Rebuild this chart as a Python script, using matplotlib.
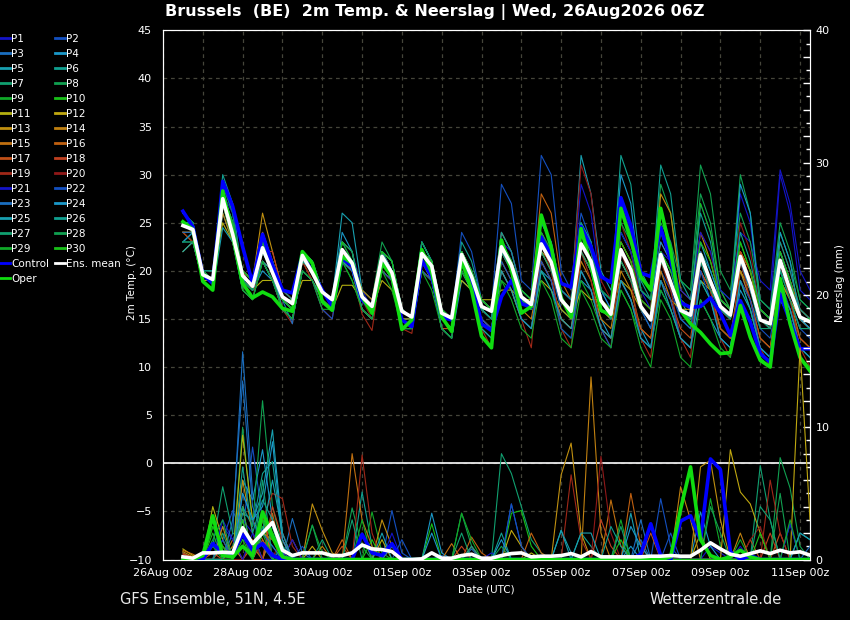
"""
GFS ENSEMBLE PLUME - BRUSSELS
2m temperature and precipitation, run Wed 26Aug2026 06Z
"""

import matplotlib
matplotlib.use("Agg")
import matplotlib.pyplot as plt
import matplotlib.dates as mdates
from matplotlib.lines import Line2D
from matplotlib.ticker import FuncFormatter, MultipleLocator
import pandas as pd

# =========================================================
# DATA (6-hourly, +6h .. +384h)
# =========================================================
RUN_FIRST_STEP = "2026-08-26 12:00"
N_STEPS = 64
TITLE = "Brussels  (BE)  2m Temp. & Neerslag | Wed, 26Aug2026 06Z"

MEMBER_COLORS = ["#1414c8", "#1450c0", "#1a6ec0", "#1a98c8", "#18a0b0",
                 "#10a090", "#10a070", "#10a050", "#10a828", "#18c018",
                 "#b4b010", "#c0a810", "#c09010", "#c08010", "#c07010",
                 "#c06010", "#c05018", "#c04020", "#a02818", "#901818"]
MEMBER_COLORS = MEMBER_COLORS + MEMBER_COLORS[:10]

MEAN_TEMP = [24.7, 24.3,
             19.6, 19.1, 27.5, 23.8, 19.5, 18.4, 22.4, 19.8, 17.3, 16.6, 21.6, 19.8,
             17.8, 17.0, 22.2, 20.8, 17.3, 16.3, 21.5, 19.8, 15.8, 15.2, 21.8, 20.5,
             15.6, 15.1, 21.7, 19.4, 16.3, 15.8, 22.5, 20.6, 17.3, 16.5, 22.8, 20.9,
             17.0, 15.8, 22.8, 21.0, 16.9, 15.5, 22.2, 20.1, 16.3, 14.9, 21.7, 18.8,
             15.9, 15.4, 21.7, 18.9, 16.3, 15.4, 21.5, 18.7, 14.9, 14.5, 21.1, 18.0,
             15.2, 14.7]

CTRL_TEMP = [26.2, 24.6,
             19.6, 18.7, 29.3, 26.7, 22.5, 18.7, 23.8, 20.6, 18.0, 17.7, 21.7, 19.9,
             18.0, 16.3, 21.3, 20.5, 17.0, 15.9, 21.1, 19.4, 14.9, 14.2, 21.1, 19.4,
             15.2, 14.9, 21.1, 19.1, 14.5, 13.8, 17.3, 19.0, 16.6, 16.2, 23.5, 21.6,
             18.7, 18.3, 24.6, 22.5, 19.4, 18.8, 27.6, 24.7, 19.8, 19.4, 24.5, 21.1,
             16.7, 16.2, 16.3, 17.2, 15.6, 13.3, 16.9, 14.7, 11.4, 10.5, 17.6, 14.7,
             11.9, 11.9]

OPER_TEMP = [25.1, 24.3,
             18.9, 18.0, 28.3, 23.8, 18.7, 17.2, 17.8, 17.3, 16.1, 15.8, 22.0, 20.8,
             16.8, 15.9, 21.5, 20.8, 17.3, 15.6, 20.8, 19.4, 13.9, 14.9, 22.2, 19.8,
             15.2, 13.7, 21.1, 18.0, 13.2, 12.0, 23.2, 20.1, 15.6, 16.3, 25.8, 22.5,
             17.2, 15.2, 24.4, 20.5, 15.9, 15.4, 26.5, 23.2, 19.4, 18.0, 26.5, 22.1,
             15.9, 14.5, 13.6, 12.4, 11.4, 11.5, 16.4, 13.1, 10.7, 10.0, 19.2, 14.5,
             11.0, 9.6]

MEMBER_TEMP = [
    [26, 25, 19, 19, 29, 27, 19, 18, 23, 20, 18, 17, 21, 20, 18, 17, 23, 22, 18, 16, 22, 21, 16, 15, 23, 21, 16, 15, 22, 20, 17, 16, 24, 22, 18, 17, 25, 23, 18, 17, 29, 26, 18, 16, 27, 24, 18, 16, 26, 23, 17, 16, 27, 24, 18, 16, 28, 25, 17, 16, 30, 26, 18, 17],
    [23, 23, 19, 19, 29, 26, 19, 19, 21, 19, 18, 17, 22, 21, 18, 17, 23, 21, 17, 16, 22, 20, 16, 15, 23, 21, 16, 15, 24, 22, 17, 16, 29, 27, 19, 18, 32, 30, 20, 18, 26, 23, 17, 15, 21, 19, 16, 14, 20, 18, 15, 14, 20, 18, 16, 15, 20, 17, 14, 13, 19, 17, 14, 13],
    [25, 24, 20, 19, 28, 25, 20, 19, 24, 21, 18, 17, 22, 20, 17, 16, 21, 20, 17, 16, 21, 19, 15, 15, 21, 20, 15, 14, 21, 19, 16, 16, 22, 20, 17, 16, 22, 20, 16, 15, 22, 20, 16, 15, 21, 19, 16, 14, 22, 19, 15, 14, 21, 18, 16, 15, 22, 19, 15, 14, 20, 17, 14, 14],
    [23, 24, 19, 18, 26, 23, 19, 18, 20, 19, 16, 15, 20, 19, 17, 16, 21, 20, 16, 15, 20, 19, 14, 14, 20, 19, 14, 13, 19, 18, 15, 14, 20, 18, 15, 14, 20, 19, 15, 14, 19, 18, 15, 13, 19, 17, 14, 12, 18, 16, 13, 12, 17, 15, 13, 12, 18, 16, 12, 11, 17, 15, 12, 11],
    [25, 25, 20, 19, 27, 24, 20, 18, 22, 20, 17, 16, 22, 20, 18, 17, 26, 25, 18, 17, 21, 20, 16, 15, 22, 21, 15, 15, 22, 20, 17, 16, 23, 21, 17, 16, 24, 22, 18, 17, 32, 28, 20, 18, 24, 22, 17, 16, 22, 20, 16, 15, 21, 19, 17, 16, 22, 19, 15, 14, 22, 19, 15, 15],
    [26, 25, 19, 19, 30, 27, 19, 18, 22, 20, 17, 17, 22, 21, 18, 17, 22, 21, 17, 16, 22, 20, 16, 15, 22, 21, 16, 15, 21, 20, 16, 15, 22, 21, 18, 17, 24, 22, 18, 17, 25, 23, 18, 17, 32, 29, 20, 18, 24, 21, 17, 15, 22, 20, 17, 16, 21, 18, 15, 14, 20, 18, 15, 14],
    [24, 24, 20, 20, 28, 24, 19, 18, 22, 20, 17, 16, 22, 20, 18, 17, 22, 21, 17, 16, 22, 20, 16, 15, 22, 21, 16, 15, 22, 19, 16, 16, 22, 20, 17, 17, 23, 21, 17, 16, 22, 20, 16, 15, 22, 20, 16, 15, 21, 19, 16, 15, 22, 19, 16, 15, 21, 18, 14, 14, 21, 18, 15, 14],
    [25, 24, 20, 19, 27, 24, 19, 18, 22, 20, 17, 16, 21, 20, 18, 17, 22, 21, 18, 17, 23, 21, 16, 15, 22, 21, 15, 15, 22, 20, 16, 15, 22, 20, 18, 17, 23, 21, 17, 16, 23, 21, 17, 16, 24, 22, 18, 17, 29, 26, 19, 18, 28, 25, 18, 17, 30, 26, 17, 16, 24, 21, 17, 16],
    [24, 23, 19, 18, 27, 23, 18, 17, 21, 19, 16, 15, 20, 19, 17, 16, 21, 19, 16, 15, 20, 19, 14, 14, 20, 19, 14, 13, 20, 18, 14, 13, 19, 18, 15, 14, 20, 18, 14, 13, 19, 17, 14, 13, 18, 16, 13, 12, 18, 16, 13, 12, 19, 17, 14, 13, 19, 16, 12, 11, 18, 16, 12, 11],
    [25, 24, 20, 19, 28, 25, 20, 19, 23, 20, 17, 17, 22, 20, 18, 17, 22, 20, 17, 16, 21, 20, 16, 15, 22, 20, 15, 15, 21, 19, 16, 16, 23, 21, 18, 17, 23, 21, 17, 16, 23, 21, 17, 16, 22, 20, 16, 15, 22, 20, 17, 16, 27, 24, 18, 16, 23, 20, 16, 15, 22, 19, 16, 15],
    [22, 23, 19, 19, 25, 23, 19, 18, 19, 19, 17, 16, 19, 19, 17, 16, 18.5, 18.5, 17, 16, 19, 18, 15, 15, 20, 19, 15, 15, 19, 18, 17, 17, 18, 18, 17, 17, 19, 18, 16, 15, 18, 17, 17, 16, 19, 18, 16, 15, 19, 17, 16, 15, 19, 18, 17, 16, 20, 18, 15, 14, 19, 17, 15, 14],
    [25, 24, 20, 19, 28, 24, 19, 18, 23, 21, 17, 16, 21, 20, 18, 17, 22, 21, 17, 16, 21, 20, 16, 15, 22, 20, 16, 15, 22, 20, 16, 15, 23, 21, 17, 16, 22, 20, 17, 16, 23, 21, 16, 15, 21, 19, 16, 15, 21, 19, 16, 16, 21, 19, 16, 15, 21, 19, 15, 14, 21, 18, 15, 14],
    [24, 24, 20, 19, 27, 24, 20, 19, 26, 22, 18, 17, 22, 20, 18, 17, 23, 22, 17, 16, 21, 20, 16, 15, 22, 21, 16, 15, 22, 20, 17, 16, 22, 20, 17, 16, 22, 21, 17, 16, 23, 21, 17, 16, 23, 21, 17, 16, 28, 26, 18, 17, 24, 21, 17, 16, 22, 20, 15, 14, 21, 19, 15, 14],
    [24, 23, 20, 19, 26, 23, 19, 18, 21, 19, 16, 15, 20, 19, 17, 16, 21, 20, 16, 15, 20, 19, 15, 14, 21, 19, 15, 14, 20, 18, 15, 14, 21, 19, 16, 15, 21, 19, 15, 14, 21, 19, 15, 14, 20, 18, 14, 13, 20, 17, 13, 12, 20, 18, 14, 13, 20, 17, 13, 12, 19, 17, 13, 12],
    [24, 24, 20, 19, 27, 24, 20, 19, 24, 21, 18, 17, 21, 20, 18, 17, 22, 21, 18, 17, 22, 20, 16, 15, 21, 20, 16, 15, 21, 19, 17, 16, 22, 20, 17, 16, 23, 21, 17, 16, 22, 20, 17, 16, 22, 20, 16, 15, 21, 19, 16, 15, 22, 19, 16, 15, 22, 19, 15, 14, 21, 18, 15, 14],
    [25, 24, 20, 19, 27, 24, 19, 18, 22, 20, 18, 17, 22, 21, 18, 17, 22, 21, 17, 16, 22, 20, 16, 15, 22, 21, 16, 15, 22, 20, 17, 16, 24, 22, 18, 17, 28, 26, 19, 17, 24, 22, 17, 16, 23, 21, 16, 15, 21, 19, 16, 15, 22, 19, 16, 15, 22, 20, 16, 15, 22, 19, 16, 15],
    [24, 24, 20, 19, 27, 23, 19, 18, 21, 20, 17, 16, 21, 19, 17, 16, 21, 20, 16, 15, 20, 19, 15, 14, 20, 19, 14, 14, 20, 18, 15, 14, 20, 18, 15, 14, 21, 19, 15, 14, 20, 18, 14, 13, 19, 17, 14, 13, 19, 17, 14, 13, 20, 18, 14, 13, 19, 17, 13, 12, 18, 16, 13, 12],
    [25, 24, 20, 19, 27, 24, 20, 18, 22, 22, 18, 17, 22, 20, 18, 17, 22, 21, 17, 16, 21, 20, 16, 15, 21, 20, 16, 15, 21, 19, 16, 15, 22, 20, 17, 16, 23, 21, 17, 16, 22, 20, 17, 16, 22, 20, 16, 15, 22, 19, 16, 15, 21, 19, 16, 15, 22, 19, 15, 14, 21, 18, 15, 14],
    [24, 23, 19, 18, 27, 24, 18, 17, 22, 21, 16, 14.5, 21, 19, 16, 15, 22, 20, 15.5, 13.8, 21, 19, 14, 13.5, 21, 19, 14, 13, 21, 18, 14, 12, 22, 20, 15, 12, 23, 20, 14, 12, 22, 19, 14, 12, 22, 19, 13, 11, 21, 18, 13, 11, 22, 18, 13, 11, 21, 17, 12, 10, 21, 17, 12, 10],
    [25, 24, 20, 19, 28, 25, 20, 19, 23, 21, 18, 17, 22, 20, 17, 16, 21, 20, 17, 15, 21, 20, 16, 15, 22, 20, 16, 15, 22, 20, 16, 15, 22, 21, 17, 16, 24, 22, 18, 17, 31, 28, 19, 17, 25, 22, 17, 16, 23, 21, 17, 16, 24, 22, 17, 16, 25, 22, 16, 15, 23, 20, 16, 15],
    [26, 25, 20, 19, 28, 26, 19, 18, 22, 20, 17, 16, 22, 21, 18, 17, 22, 21, 17, 16, 22, 20, 16, 15, 22, 20, 16, 15, 22, 20, 17, 16, 23, 22, 18, 17, 24, 22, 18, 17, 24, 22, 18, 17, 24, 22, 18, 17, 22, 21, 18, 17, 24, 22, 18, 17, 24, 23, 19, 18, 30.5, 27, 20, 18],
    [23, 23, 19, 18, 27, 25, 19, 18, 21, 19, 16, 15, 20, 19, 16, 15, 21, 20, 16, 15, 20, 19, 14, 14, 20, 19, 14, 13, 20, 18, 15, 14, 21, 19, 15, 14, 21, 19, 14, 13, 20, 18, 14, 12, 19, 17, 13, 12, 19, 17, 13, 12, 20, 17, 13, 12, 19, 17, 12, 11, 19, 16, 12, 11],
    [24, 24, 20, 19, 28, 25, 19, 18, 23, 21, 17, 14.5, 22, 20, 18, 17, 22, 21, 17, 16, 22, 20, 16, 15, 22, 20, 15, 15, 21, 19, 16, 15, 22, 20, 17, 16, 23, 21, 17, 16, 23, 21, 17, 15, 22, 20, 16, 15, 22, 19, 16, 15, 22, 19, 16, 15, 21, 18, 15, 14, 22, 19, 15, 14],
    [23, 24, 20, 19, 28, 25, 19, 18, 21, 19, 17, 16, 21, 20, 18, 17, 24, 22, 17, 16, 22, 21, 16, 15, 23, 21, 15, 14, 22, 20, 16, 15, 23, 21, 17, 16, 23, 21, 17, 16, 24, 22, 18, 16, 30, 27, 18, 17, 23, 21, 17, 16, 23, 20, 17, 16, 29, 26, 16, 15, 24, 21, 15, 14],
    [22, 23, 19, 18, 24.5, 23, 18, 17, 21, 20, 16, 15, 20, 19, 17, 16, 21, 20, 16, 15, 21, 19, 15, 14, 21, 19, 14, 13, 20, 18, 14, 13, 20, 18, 15, 14, 20, 18, 15, 14, 20, 18, 14, 13, 19, 17, 13, 12, 19, 16, 13, 12, 19, 17, 13, 12, 19, 16, 12, 11, 18, 16, 12, 11],
    [26, 25, 20, 20, 28, 25, 20, 19, 23, 21, 18, 17, 22, 21, 18, 17, 23, 22, 17, 16, 22, 21, 16, 15, 23, 21, 16, 15, 23, 21, 17, 16, 24, 22, 18, 17, 25, 23, 18, 17, 25, 23, 18, 17, 26, 24, 19, 17, 31, 28, 19, 17, 26, 23, 17, 16, 24, 21, 16, 15, 23, 20, 16, 15],
    [25, 24, 20, 19, 28, 24, 19, 18, 22, 20, 17, 16, 21, 20, 18, 17, 22, 21, 17, 16, 22, 20, 16, 15, 22, 21, 16, 15, 21, 19, 16, 15, 22, 20, 17, 16, 22, 20, 17, 16, 22, 20, 17, 15, 21, 19, 16, 15, 21, 19, 16, 15, 21, 18, 16, 15, 21, 19, 15, 14, 20, 17, 14, 14],
    [26, 25, 20, 19, 29, 26, 19, 18, 22, 20, 17, 16, 22, 21, 18, 17, 23, 22, 17, 16, 22, 21, 16, 15, 23, 21, 16, 15, 22, 20, 17, 16, 23, 21, 17, 16, 23, 21, 17, 16, 24, 22, 18, 17, 25, 23, 18, 17, 25, 23, 19, 18, 31, 28, 20, 18, 26, 23, 17, 16, 25, 22, 17, 16],
    [23, 23, 19, 18, 27, 23, 18, 17, 21, 19, 16, 15, 20, 19, 16, 16, 21, 19, 16, 15, 20, 18, 14, 14, 20, 18, 14, 13, 20, 18, 13, 12, 19, 17, 14, 13, 19, 17, 13, 12, 18, 16, 13, 12, 18, 16, 12, 10, 17, 15, 11, 10, 17, 15, 12, 11, 17, 15, 11, 10, 17, 15, 11, 10],
    [26, 25, 20, 19, 28, 25, 20, 19, 23, 21, 17, 16, 22, 20, 18, 17, 23, 21, 17, 16, 22, 21, 16, 15, 22, 21, 16, 15, 22, 20, 17, 16, 23, 21, 18, 17, 24, 22, 17, 16, 23, 21, 17, 16, 23, 21, 17, 16, 22, 20, 17, 16, 23, 21, 17, 16, 23, 20, 16, 15, 22, 19, 15, 15],
]

MEAN_RAIN = [0.2, 0.1,
             0.5, 0.5, 0.55, 0.5, 2.4, 1.2, 2.0, 2.8, 0.7, 0.3, 0.5, 0.5,
             0.5, 0.3, 0.3, 0.5, 1.1, 0.8, 0.75, 0.6, 0.0, 0.0, 0.05, 0.5,
             0.1, 0.1, 0.3, 0.4, 0.1, 0.1, 0.3, 0.45, 0.5, 0.2, 0.25, 0.25,
             0.3, 0.45, 0.2, 0.6, 0.2, 0.2, 0.2, 0.2, 0.2, 0.25, 0.25, 0.3,
             0.25, 0.25, 0.7, 1.26, 0.8, 0.4, 0.25, 0.45, 0.65, 0.45, 0.7, 0.5,
             0.58, 0.33]

CTRL_RAIN = [0, 0,
             0, 1.2, 0.5, 0.5, 1.9, 0.7, 1.2, 0.3, 0, 0, 0, 0,
             0, 0, 0, 0, 1.9, 0.5, 0.3, 1.2, 0, 0, 0, 0,
             0, 0, 0, 0, 0, 0, 0, 0, 0, 0, 0, 0,
             0, 0, 0, 0, 0, 0, 0, 0, 0.4, 2.7, 0.3, 0,
             2.9, 3.3, 1.5, 7.6, 6.8, 0.6, 0, 0.3, 0, 0, 0, 0,
             0, 0]

OPER_RAIN = [0, 0,
             0.3, 3.3, 0.3, 0.2, 1.0, 0.3, 3.6, 1.8, 0.2, 0, 0, 0,
             0, 0, 0, 0, 0, 0, 0, 0, 0, 0, 0, 0,
             0, 0, 0, 0, 0, 0, 0, 0, 0, 0, 0, 0,
             0, 0, 0, 0, 0, 0, 0, 0, 0, 0, 0, 0.2,
             3.8, 7.0, 1.5, 0.3, 0, 0.2, 0.7, 0.2, 0, 0, 0, 0,
             0, 0]

MEMBER_RAIN = [
    [0, 0, 0, 1, 2.5, 1.5, 3, 2, 1, .5, .2, 0, 0, 0, 0, 0, 0, 0, 0, 0, 0, 0, 0, 0, 0, .5, 0, 0, 0, 0, 0, 0, 0, 0, 0, 0, 0, 0, 0, 0, 0, 0, 0, 0, 0, 0, 0, 0, 0, 0, 0, 0, 0, 1, .5, 0, 0, 0, 0, 0, 0, 0, 0, 0],
    [0, 0, 0, 0, 1.5, 3.7, 2, 8.5, 3, 1.5, .5, 0, 0, 0, 0, 0, 0, 0, 0, 0, 0, 3.7, .5, 0, 0, 0, 0, 0, 0, 0, 0, 0, 0, 4.2, 1, 0, 0, 0, 0, 0, 0, 0, 0, 0, 0, 0, 0, 0, 4.6, 1, 0, 0, 0, 0, 0, 0, 0, 0, 0, 0, 0, 2.7, 0, 0],
    [0, 0, 0, 0, 0, 2, 15.7, 5, 2, 1, 0, 3.1, .5, 0, 0, 0, 0, 0, 0, 0, 0, 0, 0, 0, 0, 0, 0, 0, 0, .8, 0, 0, 0, 0, 0, 0, 0, 0, 0, 0, 0, 0, 0, 0, 0, 0, 1.5, 0, 0, 0, 0, 0, 0, 0, 0, 0, 0, 0, 0, 0, 0, 0, 0, 0],
    [0, 0, 0, 0, 0, 0, 6, 4.5, 8.3, 3, 1, 0, 0, 0, 0, 0, 0, 0, 0, 0, 0, 0, 0, 0, 0, 3.5, .5, 0, 0, 0, 0, 0, 0, 0, 0, 0, 0, 0, 0, 0, 0, 0, 0, 0, 0, 1, 0, 0, 0, 0, 0, 0, 3.6, 1, 0, 0, 0, 0, 0, 0, 0, 0, 0, 0],
    [.5, 0, 0, 0, 0, 0, 3.5, 3, 5, 9.8, 2, 0, 0, 0, 0, 0, 0, 0, 0, 0, 0, 0, 0, 0, 0, 0, 0, 0, 0, 0, 0, 0, 0, 0, 0, 0, 0, 0, 2.2, .5, 0, 0, 0, 0, 0, 3.5, 0, 0, 0, 0, 0, 0, 0, 0, 0, 0, 0, 0, 0, 0, 0, 0, 2, 1.5],
    [0, 0, 0, 0, 0, 1, 4, 2.5, 6.5, 7.4, 1.5, 0, 0, 0, 0, 0, 0, 0, 5.1, 1, 0, 0, 0, 0, 0, 0, 0, 0, 0, 0, 0, 0, 2, 0, 0, 0, 0, 0, 0, 0, 2, 1, 0, 0, 0, 0, 0, 0, 0, 0, 0, 0, 0, 0, 0, 0, 0, 0, 0, 0, 0, 0, 0, 0],
    [0, 0, 0, 1, 5.5, 2, 1.5, 1, 0, 2.5, 0, 0, 0, 0, 0, 0, 0, 0, 0, 0, 0, 0, 0, 0, 0, 0, 0, 0, 0, 0, 0, 0, 8, 6.5, 4, 1.5, .5, 0, 0, 0, 0, 0, 0, 0, 0, 0, 0, 0, 0, 0, 0, 0, 0, 0, 0, 0, 0, 0, 7.1, 3, 0, 0, 0, 0],
    [0, 0, 0, 0, 0, 0, 10, 2.5, 12, 4, 1, 0, 0, 0, 0, 0, 0, 3.9, 1, 0, 0, 0, 0, 0, 0, 0, 0, 0, 3.5, 1, 0, 0, 0, 0, 0, 0, 0, 0, 0, 0, 0, 0, 0, 0, 0, 0, 0, 0, 0, 0, 0, 0, 0, 0, 0, 0, 0, 0, 0, 0, 7.7, 5.4, 1, 0],
    [0, 0, 0, 2.5, 1, 0, 2, 0, 3, 0, 0, 0, 0, 2.6, .5, 0, 0, 0, 0, 3.6, .5, 0, 0, 0, 0, 0, 0, 0, 0, 0, 0, 0, 0, 0, 0, 0, 0, 0, 0, 0, 0, 0, 0, 0, 3, 0, 0, 0, 0, 0, 0, 0, 0, 4.6, 1, 0, 0, 0, 0, 0, 0, 0, 0, 0],
    [0, 0, 0, 2, 0, 0, 1.5, 0, 2.5, 0, 0, 0, 0, 0, 0, 0, 0, 0, 0, 0, 0, 0, 0, 0, 0, 2.7, 0, 0, 0, 0, 0, 0, 0, 3.5, 3.7, 1, 0, 0, 0, 0, 0, 0, 0, 0, 0, 0, 0, 0, 0, 0, 0, 0, 0, 0, 0, 0, 0, 0, 0, 0, 0, 0, 0, 0],
    [.8, .3, 0, 4, 1.5, 0, 9.4, 3, 1.5, 0, 0, 0, 0, 0, 0, 0, 0, 0, 0, 0, 1.5, 0, 0, 0, 0, 0, 0, 0, 0, 0, 0, 0, 0, 0, 0, .5, 0, 0, 0, 0, 0, 0, 0, 0, 0, 0, 0, 0, 0, 0, 0, 0, 2, 0, 0, 0, 0, 0, 0, 0, 0, 0, 0, 0],
    [0, 0, 0, 0, 0, 0, 4, 0, 2, 1.5, 0, 0, 0, 1, 0, 0, 0, 0, 0, 0, 0, 1, 0, 0, 0, 0, 0, 0, 0, 0, 0, 0, 0, 2.2, 1, 0, 0, 0, 0, 0, 0, 0, 0, 0, 0, 0, 0, 0, 0, 0, 0, 0, 0, 0, 0, 8.3, 5.1, 4.2, 2, 0, 0, 0, 16, 3],
    [.6, .2, 0, 0, 2.5, 0, 6, 2, 0, 0, 0, 0, 0, 4.2, 2.2, .5, 0, 0, 0, 0, 3, 1, 0, 0, 0, 0, 0, 0, 0, 0, 0, 0, 0, 0, 0, 0, 0, 0, 6.4, 8.8, 2, 0, 0, 0, 0, 0, 0, 0, 0, 0, 0, 0, 7, 7.5, 3, 0, 0, 0, 0, 0, 0, 0, 0, 0],
    [0, 0, 0, 0, 0, 1, 0, 1.5, 0, 2, 0, 0, 0, 0, 1, 0, 0, 0, 0, 0, 0, 0, 0, 0, 0, 0, 0, 0, 0, 0, 0, 0, 0, 0, 0, 0, 0, 0, 0, 0, 0, 13.8, 2, 0, 0, 0, 0, 0, 0, 0, 5.5, 3, 0, 0, 0, 0, 2, 0, 0, 0, 0, 0, 0, 0],
    [.7, .4, 0, 0, 1, 0, 2, 0, 3.5, 0, 0, 0, 0, 0, 0, 0, 0, 8, 3, 1, 0, 0, 0, 0, 0, 0, 0, 1.2, 0, 0, 0, 0, 0, 0, 0, 0, 0, 0, 0, 0, 0, 0, 0, 4.5, 1, 0, 0, 0, 0, 0, 0, 0, 0, 0, 0, 0, 0, 0, 0, 0, 0, 0, 0, 0],
    [0, 0, 0, 0, 0, 1.5, 0, 1, 0, 3.5, 0, 1.5, 0, 0, 0, 0, 1.5, 0, 0, 0, 0, 0, 0, 0, 0, 0, 0, 0, 0, 1.7, .5, 0, 0, 0, 0, 2, .5, 0, 0, 0, 0, 0, 0, 0, 0, 5, 1, 0, 0, 0, 0, 0, 0, 0, 0, 0, 0, 0, 0, 0, 0, 0, 0, 0],
    [.5, 0, 0, .5, 0, 0, 2.5, 0, 1.5, 0, 0, 0, 0, 0, 0, 0, 1, 0, 0, 0, 0, 0, 0, 0, 0, 0, 0, 0, 0, 1, 0, 0, 0, 0, 0, 0, 0, 0, 0, 0, 0, 0, 0, 0, 0, 0, 0, 2, 0, 0, 0, 0, 0, 0, 0, 0, 0, 1.5, 0, 0, 2, 0, 0, 0],
    [.4, .2, 0, 0, 0, 0, 3, 0, 0, 4, 1.5, 0, 0, 0, 0, 0, 0, 0, 2, 0, 0, 0, 0, 0, 0, 0, 0, 0, 1, 0, 0, 0, 0, 0, 0, 0, 0, 0, 0, 0, 0, 0, 3, 1, 0, 0, 0, 0, 0, 0, 0, 0, 0, 0, 0, 0, 0, 0, 0, 2, 0, 0, 0, 0],
    [0, 0, 0, 0, 0, 0, 2, 0, 3, 5, 4.6, 1, 0, 0, 0, 0, 0, 0, 7.9, 2, 0, 0, 0, 0, 0, 0, 0, 0, 0, 0, 0, 0, 0, 0, 0, 0, 0, 0, 0, 6.4, 1.5, 0, 0, 0, 0, 0, 0, 0, 0, 0, 0, 0, 0, 0, 0, 0, 0, 0, 0, 6, 2, 0, 0, 0],
    [0, 0, 0, 0, 0, 0, 0, 1.5, 0, 0, 2, 0, 0, 0, 0, 0, 0, 0, 0, 0, 0, 0, 0, 0, 0, 0, 0, 0, 0, 0, 0, 0, 0, 0, 0, 0, 0, 0, 0, 0, 0, 0, 7.8, 2, 0, 0, 0, 0, 0, 0, 0, 0, 0, 0, 0, 0, 0, 1.5, 2.5, 0, 0, 0, 0, 0],
    [0, 0, 0, 0, 3, 1.5, 0, 2, 0, 0, 0, 1.5, 0, 0, 0, 0, 0, 0, 0, 0, 0, 2, 0, 0, 0, 0, 0, 0, 0, 0, 0, .5, 0, 0, 0, 0, 0, 0, 0, 0, 0, 0, 0, 0, 0, 0, 0, 0, 0, 0, 0, 0, 0, 0, 0, 0, 1, 0, 0, 0, 0, 2.7, 0, 0],
    [0, 0, 0, 0, 1.5, 0, 5, 3, 1, 0, 0, 0, 1, 0, 0, 0, 0, 0, 0, 0, 0, 0, 1.5, 0, 0, 0, 0, 0, 0, 0, 0, 0, 0, 4.2, 1, 0, 0, 0, 0, 0, 0, 0, 0, 0, 0, 0, 0, 0, 0, 2, 0, 0, 0, 0, 0, 0, 0, 0, 0, 0, 0, 0, 0, 0],
    [0, 0, 0, 0, 0, 3, 13.5, 4, 2, 1, 0, 0, 0, 0, 0, 0, 0, 0, 0, 0, 0, 1, 0, 0, 0, 0, .3, 0, 0, 0, 0, 0, 0, 0, 0, 0, 0, 0, 0, 0, 0, 0, 0, 0, 0, 0, 3, 0, 0, 0, 0, 0, 0, 0, 0, 0, 0, 0, 0, 0, 0, 0, 0, 1],
    [0, 0, 0, 0, 0, 0, 5, 3, 4, 8.9, 1.5, 0, 0, 0, 0, 0, 0, 0, 0, 0, 0, 0, 0, 0, 0, 2, 0, 0, 0, 0, 0, 0, 1.5, 0, 0, 0, 0, 0, 0, 0, 0, 0, 0, 0, 0, 2.5, 1, 0, 0, 0, 0, 0, 0, 0, 0, 0, 0, 0, 0, 0, 0, 0, 0, 0],
    [0, 0, 0, 0, 0, 0, 3, 0, 2, 6, 2, 0, 0, 0, 0, 0, 0, 0, 0, 0, 2, 0, 0, 0, 0, 0, 0, 0, 0, 0, 0, 0, 0, 0, 0, 0, 0, 0, 2.2, 0, 2, 2, 0, 0, 0, 0, 0, 0, 0, 0, 0, 0, 0, 0, 0, 0, 0, 0, 0, 0, 0, 0, 2, 1.5],
    [0, 0, 0, 0, 0, 0, 7, 2, 4.5, 3, 0, 0, 0, 0, 0, 0, 0, 0, 2, 0, 0, 0, 0, 0, 0, 0, 0, 0, 0, 1, 0, 0, 0, 0, 0, 0, 0, 0, 0, 0, 0, 0, 0, 2.5, 1, 0, 0, 0, 0, 0, 0, 0, 0, 0, 0, 0, 0, 0, 0, 0, 0, 0, 0, 0],
    [0, 0, 0, 0, 2, 0, 4, 0, 6, 0, 1, 0, 0, 0, 1.5, 0, 0, 3, 0, 0, 0, 0, 0, 0, 0, 0, 0, 0, 2, 0, 0, 0, 0, 0, 0, 0, 0, 0, 0, 0, 0, 0, 0, 0, 2.5, 0, 0, 0, 0, 0, 0, 0, 0, 0, 0, 0, 0, 0, 4, 3, 0, 0, 0, 0],
    [0, 0, 0, 1.5, 3, 0, 2, 0, 3, 2, 0, 0, 0, 2.6, 0, 0, 0, 0, 0, 0, 0, 0, 0, 0, 0, 0, 0, 0, 0, 0, 0, 0, 1, 0, 0, 0, 0, 0, 0, 0, 0, 0, 0, 0, 0, 0, 0, 0, 0, 0, 0, 0, 0, 4, 2, 0, 0, 0, 0, 0, 5, 0, 0, 0],
    [0, 0, 0, 1, 0, 0, 1, 0, 2, 0, 0, 0, 0, 0, 0, 0, 0, 0, 3, 0, 0, 0, 0, 0, 0, 0, 0, 0, 3.5, 1.5, 0, 0, 0, 0, 0, 0, 0, 0, 0, 0, 0, 0, 0, 0, 0, 0, 0, 0, 0, 0, 0, 0, 0, 0, 0, 0, 1.5, 0, 0, 0, 0, 3, 0, 0],
    [0, 0, 0, 2.5, 1, 0, 3, 0, 3, 1.5, 0, 0, 0, 0, 0, 0, 0, 0, 0, 1.5, 0, 0, 0, 0, 0, 0, 0, 0, 0, 0, 0, 0, 0, 0, 0, 0, 0, 0, 0, 0, 0, 0, 0, 0, 1.5, 0, 0, 0, 0, 0, 0, 0, 0, 0, 0, 0, 0, 0, 2, 0, 0, 0, 0, 0],
]

TEMP_TICKS = list(range(-10, 50, 5))
DATE_TICKS = ["2026-08-26", "2026-08-28", "2026-08-30", "2026-09-01", "2026-09-03",
              "2026-09-05", "2026-09-07", "2026-09-09", "2026-09-11"]

# =========================================================
# STYLE
# =========================================================
FG = "white"
GRID = "#45453a"
plt.rcParams["font.family"] = ["DejaVu Sans"]

times = pd.date_range(RUN_FIRST_STEP, periods=N_STEPS, freq="6h")

fig = plt.figure(figsize=(8.5, 6.2), dpi=100, facecolor="black")
ax = fig.add_axes([163 / 850, 1 - 559.5 / 620, 647 / 850, 529.2 / 620])
ax.set_facecolor("black")

# =========================================================
# TEMPERATURE (left axis)
# =========================================================
for i, vals in enumerate(MEMBER_TEMP):
    ax.plot(times, vals, color=MEMBER_COLORS[i], lw=0.8, zorder=3)
ax.plot(times, CTRL_TEMP, color="#0000ff", lw=2.6, zorder=4)
ax.plot(times, OPER_TEMP, color="#10dd10", lw=2.6, zorder=5)
ax.plot(times, MEAN_TEMP, color="white", lw=2.6, zorder=6)

ax.axhline(0, color="white", lw=1.2, zorder=2)
ax.set_ylim(-10, 45)
ax.set_yticks(TEMP_TICKS)
ax.set_xlim(pd.Timestamp("2026-08-26 00:00"), pd.Timestamp("2026-09-11 06:00"))
ax.set_xticks(pd.to_datetime(DATE_TICKS))
ax.set_xticks(pd.date_range("2026-08-26", "2026-09-11", freq="1D"), minor=True)
ax.xaxis.set_major_formatter(mdates.DateFormatter("%d%b %Hz"))
ax.tick_params(axis="both", which="both", length=0, colors=FG, labelsize=8)
ax.tick_params(axis="y", pad=8)
ax.tick_params(axis="x", pad=6)
ax.grid(True, axis="x", which="both", color=GRID, ls=(0, (3, 3)), lw=0.9)
ax.grid(True, axis="y", which="major", color=GRID, ls=(0, (3, 3)), lw=0.9)
for s in ax.spines.values():
    s.set_color(FG)

# =========================================================
# PRECIPITATION (right axis)
# =========================================================
ax2 = ax.twinx()
for i, vals in enumerate(MEMBER_RAIN):
    ax2.plot(times, vals, color=MEMBER_COLORS[i], lw=0.8, zorder=3)
ax2.plot(times, CTRL_RAIN, color="#0000ff", lw=2.6, zorder=4)
ax2.plot(times, OPER_RAIN, color="#10dd10", lw=2.6, zorder=5)
ax2.plot(times, MEAN_RAIN, color="white", lw=2.6, zorder=6)
ax2.set_ylim(0, 40)
ax2.yaxis.set_major_locator(MultipleLocator(2))
ax2.yaxis.set_minor_locator(MultipleLocator(1))
ax2.yaxis.set_major_formatter(FuncFormatter(lambda v, p: f"{v:.0f}" if v % 10 == 0 else ""))
ax2.tick_params(axis="y", which="major", direction="in", length=5, width=1,
                colors=FG, labelsize=8, pad=4)
ax2.tick_params(axis="y", which="minor", direction="in", length=3, width=1, colors=FG)
for s in ax2.spines.values():
    s.set_color(FG)

# =========================================================
# TEXTS
# =========================================================
fig.text(0.512, 0.993, TITLE, ha="center", va="top", color=FG,
         fontsize=11.5, fontweight="bold")
fig.text(132 / 850, 1 - 283 / 620, "2m Temp. (°C)", rotation=90, ha="center",
         va="center", color=FG, fontsize=7.5)
fig.text(840 / 850, 1 - 283 / 620, "Neerslag (mm)", rotation=90, ha="center",
         va="center", color=FG, fontsize=7.5)
fig.text(486 / 850, 1 - 589 / 620, "Date (UTC)", ha="center", va="center",
         color=FG, fontsize=7.5)
fig.text(120 / 850, 1 - 599 / 620, "GFS Ensemble, 51N, 4.5E", ha="left",
         va="center", color="#e8e8e8", fontsize=10.5)
fig.text(650 / 850, 1 - 599 / 620, "Wetterzentrale.de", ha="left",
         va="center", color="#e8e8e8", fontsize=10.5)

# =========================================================
# LEGEND (row order: P1 P2 / P3 P4 / ... / Control Ens. mean / Oper)
# =========================================================
col1 = [(f"P{i}", MEMBER_COLORS[i - 1]) for i in range(1, 31, 2)]
col1 += [("Control", "#0000ff"), ("Oper", "#10dd10")]
col2 = [(f"P{i}", MEMBER_COLORS[i - 1]) for i in range(2, 31, 2)]
col2 += [("Ens. mean", "white")]
entries = col1 + col2
handles = [Line2D([], [], color=c, lw=2) for _, c in entries]
labels = [t for t, _ in entries]
leg = fig.legend(handles, labels, ncol=2, loc="upper left",
                 bbox_to_anchor=(0.0, 1 - 34 / 620), frameon=False,
                 fontsize=7.5, handlelength=1.0, handletextpad=0.1,
                 columnspacing=0.5, labelspacing=0.48, borderpad=0,
                 borderaxespad=0)
for t in leg.get_texts():
    t.set_color(FG)

fig.savefig("out.png", dpi=100, facecolor="black")
